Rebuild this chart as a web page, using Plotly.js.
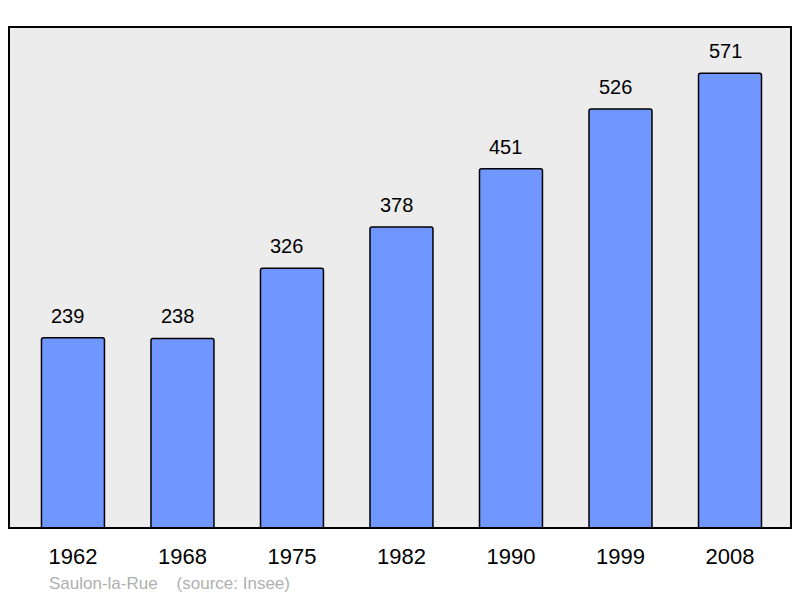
<!DOCTYPE html>
<html>
<head>
<meta charset="utf-8">
<script src="https://cdn.plot.ly/plotly-3.0.1.min.js"></script>
<style>html,body{margin:0;padding:0;background:#fff;}#chart{width:800px;height:598px;}</style>
</head>
<body>
<div id="chart"></div>
<script>
const years = ["1962", "1968", "1975", "1982", "1990", "1999", "2008"];
const population = [239, 238, 326, 378, 451, 526, 571];
const commune = "Saulon-la-Rue";
const source = "(source: Insee)";

const trace = {
  type: "bar",
  x: years,
  y: population,
  width: 0.575,
  marker: { color: "#7096ff", line: { color: "#000", width: 1.5 }, cornerradius: 2 },
  hoverinfo: "none"
};

const annotations = years.map((yr, i) => ({
  x: i, y: population[i], xref: "x", yref: "y",
  text: String(population[i]), showarrow: false,
  xanchor: "center", yanchor: "middle", yshift: 22, xshift: -5,
  font: { family: "Liberation Sans, Arial, sans-serif", size: 20, color: "#000" }
}));
annotations.push({
  xref: "paper", yref: "paper", x: 0.049, y: -0.11,
  xanchor: "left", yanchor: "middle", showarrow: false,
  text: commune + "&nbsp;&nbsp;&nbsp;&nbsp;" + source,
  font: { family: "Liberation Sans, Arial, sans-serif", size: 17, color: "#b0b0b0" }
});

const layout = {
  width: 800, height: 598,
  margin: { l: 9, r: 9, t: 27, b: 70 },
  paper_bgcolor: "#ffffff",
  plot_bgcolor: "#ececec",
  showlegend: false,
  font: { family: "Liberation Sans, Arial, sans-serif" },
  xaxis: {
    type: "category", range: [-0.584, 6.557],
    showgrid: false, zeroline: false, showline: false,
    ticks: "outside", ticklen: 9, tickcolor: "rgba(0,0,0,0)",
    tickfont: { size: 22, color: "#000" }, fixedrange: true
  },
  yaxis: {
    range: [0, 629], showgrid: false, zeroline: false, showline: false,
    showticklabels: false, ticks: "", fixedrange: true
  },
  shapes: [{
    type: "rect", xref: "paper", yref: "paper", x0: 0, x1: 1, y0: 0, y1: 1,
    line: { color: "#000", width: 2 }, fillcolor: "rgba(0,0,0,0)", layer: "above"
  }],
  annotations: annotations
};

Plotly.newPlot("chart", [trace], layout, { displayModeBar: false, staticPlot: true });
</script>
</body>
</html>
